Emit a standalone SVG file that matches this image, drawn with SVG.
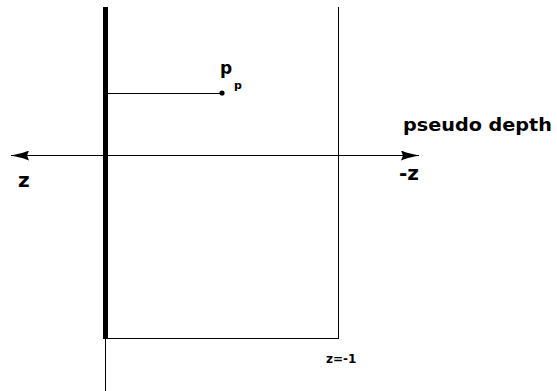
<svg xmlns="http://www.w3.org/2000/svg" width="557" height="391" viewBox="0 0 557 391">
<style>
.ln{stroke:#000;stroke-width:1;fill:none}
.t{font-family:"DejaVu Sans","Liberation Sans",sans-serif;font-weight:bold;fill:#000}
</style>
<defs>
<marker id="ah" viewBox="0 0 18 10" refX="18" refY="5" markerWidth="18" markerHeight="10" markerUnits="userSpaceOnUse" orient="auto-start-reverse">
<path d="M0,0 L6,2.2 L18,5 L6,7.8 L0,10 L2,5 Z" fill="#000"/>
</marker>
</defs>
<rect width="557" height="391" fill="#fff"/>
<g id="connectors">
<line class="ln" x1="11" y1="155.5" x2="419" y2="155.5" marker-start="url(#ah)" marker-end="url(#ah)"/>
<line class="ln" x1="103" y1="93.5" x2="222" y2="93.5"/>
</g>
<g id="frame">
<line class="ln" x1="105.5" y1="7" x2="105.5" y2="391"/>
<line x1="105.5" y1="7" x2="105.5" y2="339" stroke="#000" stroke-width="5"/>
<line class="ln" x1="338.5" y1="7" x2="338.5" y2="338.5"/>
<line class="ln" x1="105" y1="338.5" x2="339" y2="338.5"/>
</g>
<g id="point">
<circle cx="222" cy="93" r="2.6" fill="#000"/>
<text class="t" x="220" y="74" font-size="17">p</text>
<text class="t" x="234" y="89" font-size="11">p</text>
</g>
<g id="labels">
<text class="t" x="403" y="131" font-size="18.5" textLength="149" lengthAdjust="spacingAndGlyphs">pseudo depth</text>
<text class="t" x="18" y="187" font-size="20">z</text>
<text class="t" x="399" y="180" font-size="20">-z</text>
<text class="t" x="326" y="363" font-size="12">z=-1</text>
</g>
</svg>
